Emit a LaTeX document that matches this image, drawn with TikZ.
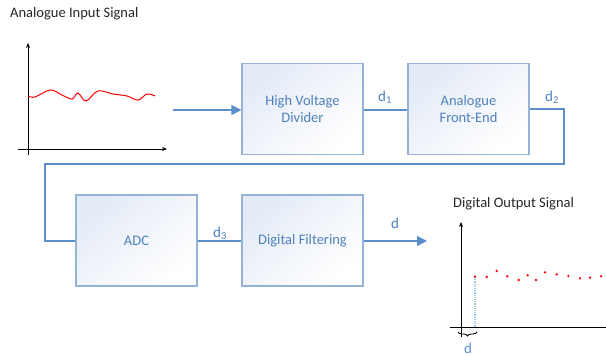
\documentclass[tikz,border=0pt]{standalone}
\usepackage{fontspec}
\setmainfont{Carlito}
\usetikzlibrary{arrows.meta,decorations.pathreplacing}
\definecolor{boxline}{HTML}{95B3D7}
\definecolor{boxfill}{HTML}{E4EBF6}
\definecolor{wire}{HTML}{5B8FCB}
\definecolor{labeltext}{HTML}{4F81BD}
\definecolor{titletext}{HTML}{262626}
\definecolor{dropline}{HTML}{9DC3E6}
\tikzset{
  blockbox/.style={draw=boxline, line width=1.1pt, top color=boxfill, bottom color=white,
    shading angle=40, minimum width=121pt, minimum height=91pt, inner sep=0pt,
    text=labeltext, align=center, font=\fontsize{14.5}{17.5}\selectfont},
  wireline/.style={draw=wire, line width=1.2pt},
  wirelabel/.style={text=labeltext, font=\fontsize{15}{17}\selectfont, inner sep=0pt},
  plottitle/.style={text=titletext, font=\fontsize{14.5}{17}\selectfont, inner sep=0pt, anchor=west},
  axisline/.style={draw=black, line width=1pt},
  bluetip/.style={-{Triangle[length=10pt,width=10pt]}}
}
\begin{document}
\begin{tikzpicture}[x=1pt,y=-1pt]
\useasboundingbox (0,0) rectangle (606,356);

% processing chain
\node[blockbox] (hvd) at (302.5,109) {High Voltage\\Divider};
\node[blockbox] (afe) at (468.5,109) {Analogue\\Front-End};
\node[blockbox] (adc) at (136.5,240.5) {ADC};
\node[blockbox] (dfilt) at (302.5,240.5) {Digital Filtering};

% wiring between blocks
\coordinate (inStart) at (173,110);
\coordinate (turnA) at (564,109);
\coordinate (turnB) at (564,164);
\coordinate (turnC) at (45,164);
\coordinate (turnD) at (45,241);
\coordinate (outEnd) at (427,241);

\draw[wireline, bluetip] (inStart) -- (hvd.west |- inStart);
\draw[wireline] (hvd.east |- 0,110) -- (afe.west |- 0,110);
\draw[wireline] (afe.east |- turnA) -- (turnA) -- (turnB) -- (turnC) -- (turnD) -- (adc.west |- turnD);
\draw[wireline] (adc.east |- 0,241) -- (dfilt.west |- 0,241);
\draw[wireline, bluetip] (dfilt.east |- outEnd) -- (outEnd);

\node[wirelabel] (lblA) at (385,97) {d\textsubscript{1}};
\node[wirelabel] (lblB) at (552,97) {d\textsubscript{2}};
\node[wirelabel] (lblC) at (220,233) {d\textsubscript{3}};
\node[wirelabel] (lblD) at (395,223) {d};

% analogue input plot
\node[plottitle] (inTitle) at (10,14) {Analogue Input Signal};
\coordinate (inYbot) at (28,155);
\coordinate (inYtop) at (28,43);
\coordinate (inXl) at (18,149);
\coordinate (inXr) at (167,149);
\draw[axisline, -{Stealth[length=5pt,width=4pt]}] (inYbot) -- (inYtop);
\draw[axisline, -{Stealth[length=5pt,width=4pt]}] (inXl) -- (inXr);
\draw[red, line width=1pt] plot[smooth, tension=0.6] coordinates {
  (28,96) (35,97) (50,90) (62,95) (72,99) (78,93) (86,101) (98,91)
  (113,94) (127,96) (138,100) (147,94) (155,96)};

% digital output plot
\node[plottitle] (outTitle) at (453,204) {Digital Output Signal};
\coordinate (outYbot) at (461,337);
\coordinate (outYtop) at (461,222);
\coordinate (outXl) at (450,327);
\coordinate (outXr) at (606,327);
\draw[axisline, -{Stealth[length=5pt,width=4pt]}] (outYbot) -- (outYtop);
\draw[axisline] (outXl) -- (outXr);
\coordinate (dropTop) at (475,277);
\draw[dropline, line width=1.2pt, densely dotted] (dropTop) -- (dropTop |- outXl);
\foreach \px/\py in {475/276.7, 486.7/277, 496.7/271, 507.3/276.3, 518.7/280,
  527.7/275.3, 536/280, 545/272.3, 556.7/274.3, 568.3/276, 580/278.3, 590/277.7, 601/276.3}
  \fill[red] (\px,\py) circle (1.3pt);

% delay brace, tick pointing down towards the label
\coordinate (braceL) at (458,332);
\coordinate (braceR) at (477,332);
\draw[black, line width=0.9pt, decorate, decoration={brace, amplitude=4pt}] (braceR) -- (braceL);
\node[wirelabel, text=wire] (lblDelay) at (468,348) {d};
\end{tikzpicture}
\end{document}
